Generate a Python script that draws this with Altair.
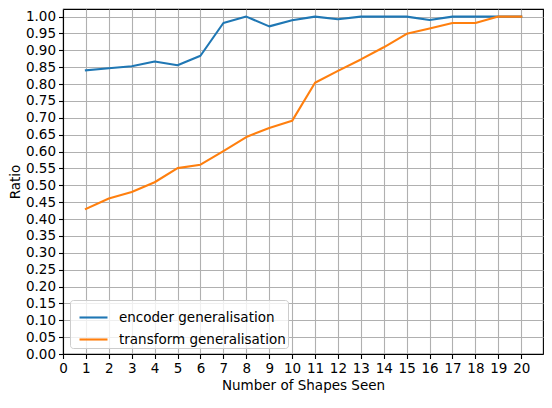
import pandas as pd
import altair as alt

shapes_seen = list(range(1, 21))
encoder_ratio = [0.841, 0.847, 0.853, 0.867, 0.856, 0.884, 0.981, 1.0, 0.971, 0.989,
                 1.0, 0.992, 1.0, 1.0, 1.0, 0.99, 1.0, 1.0, 1.0, 1.0]
transform_ratio = [0.430, 0.461, 0.480, 0.509, 0.551, 0.561, 0.601, 0.643, 0.670, 0.691,
                   0.804, 0.839, 0.873, 0.909, 0.949, 0.965, 0.981, 0.981, 1.0, 1.0]
series_names = ['encoder generalisation', 'transform generalisation']
series_colors = ['#1f77b4', '#ff7f0e']
x_ticks = list(range(0, 21))
y_ticks = [round(i * 0.05, 2) for i in range(21)]

df = pd.concat([
    pd.DataFrame({'shapes': shapes_seen, 'ratio': encoder_ratio, 'series': series_names[0]}),
    pd.DataFrame({'shapes': shapes_seen, 'ratio': transform_ratio, 'series': series_names[1]}),
])

font = 'DejaVu Sans'

chart = alt.Chart(df).mark_line(strokeWidth=2.1, strokeCap='square', strokeJoin='round').encode(
    x=alt.X('shapes:Q', title='Number of Shapes Seen',
            scale=alt.Scale(domain=[0, 20.95], nice=False, zero=False),
            axis=alt.Axis(values=x_ticks, format='d')),
    y=alt.Y('ratio:Q', title='Ratio',
            scale=alt.Scale(domain=[0, 1.0225], nice=False),
            axis=alt.Axis(values=y_ticks, format='.2f')),
    color=alt.Color('series:N',
                    scale=alt.Scale(domain=series_names, range=series_colors),
                    legend=alt.Legend(title=None, orient='none', legendX=7, legendY=291,
                                      symbolType='stroke', symbolSize=784, symbolStrokeWidth=2.1,
                                      symbolOffset=6, labelOffset=10, rowPadding=0, padding=2,
                                      fillColor='rgba(255,255,255,0.8)', strokeColor='#cccccc',
                                      cornerRadius=3, labelFont=font, labelFontSize=13.5,
                                      labelColor='black', labelLimit=400)),
).properties(
    width=480,
    height=345,
    autosize=alt.AutoSizeParams(type='none'),
    padding={'left': 55, 'top': 1, 'right': 1, 'bottom': 43},
).configure_view(
    stroke='black', strokeWidth=1.1
).configure_axis(
    labelFont=font, labelFontSize=13.5, labelColor='black', labelPadding=3,
    titleFont=font, titleFontSize=13.5, titleFontWeight='normal', titleColor='black',
    tickColor='black', tickSize=4.5, tickWidth=1.1,
    domainColor='black', domainWidth=1.1,
    gridColor='#b0b0b0', gridWidth=1.1, gridOpacity=1,
).configure_axisY(
    titlePadding=3
).configure_axisX(
    titlePadding=3, labelFlush=False, labelOverlap=False
)

chart.save('out.html', embed_options={'renderer': 'svg', 'actions': False})
